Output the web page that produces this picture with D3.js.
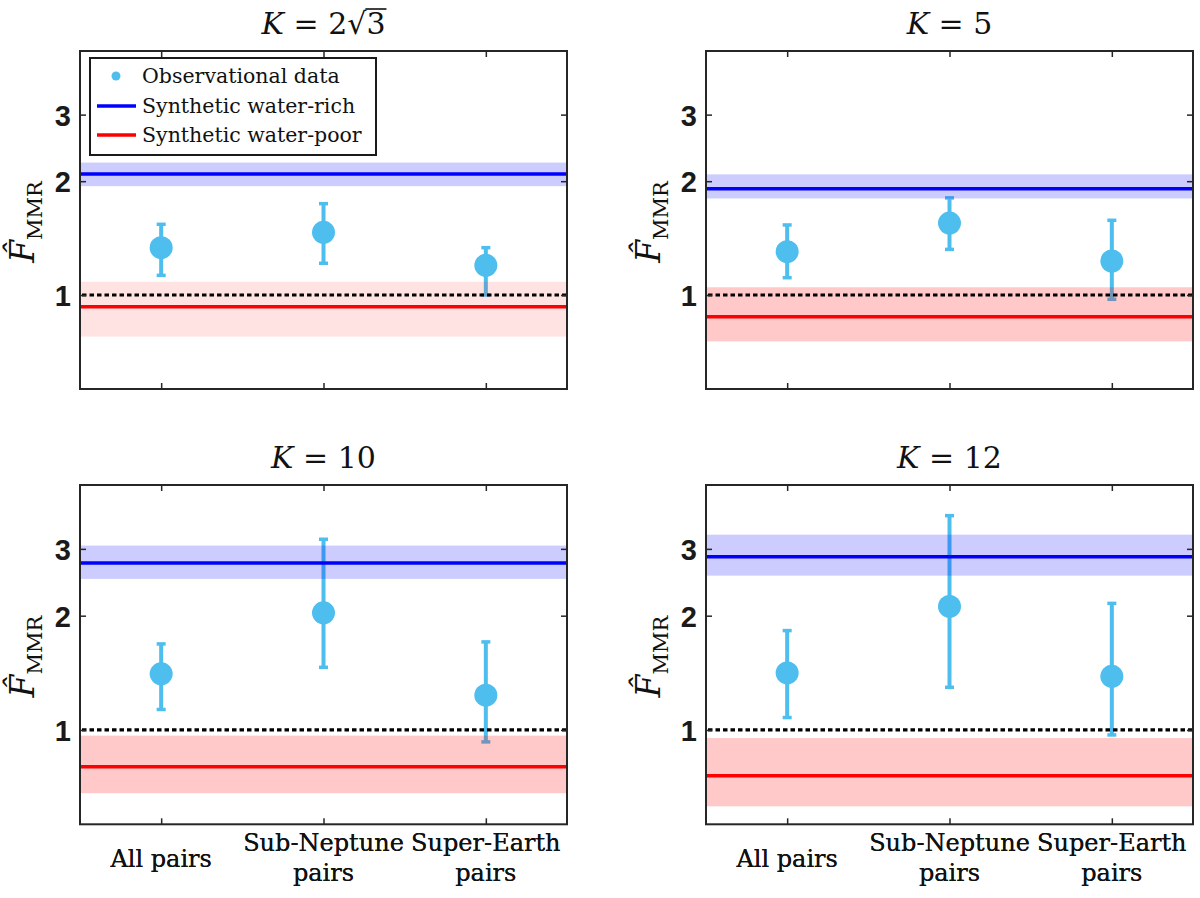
<!DOCTYPE html>
<html>
<head>
<meta charset="utf-8">
<script src="https://cdnjs.cloudflare.com/ajax/libs/d3/7.8.5/d3.min.js"></script>
<style>
    body { margin: 0; background: #fff; }
    svg { display: block; }
</style>
</head>
<body>
<svg width="1200" height="898"></svg>
<script>
// panel titles (K values)
var kLabels = ['2\u221A3', '5', '10', '12'];
// x categories, split over lines
var categories = [['All pairs'], ['Sub-Neptune', 'pairs'], ['Super-Earth', 'pairs']];
var yTicks = [1, 2, 3];

// observational estimates per panel (All, Sub-Neptune, Super-Earth)
var obsMean = [[1.334, 1.465, 1.198], [1.302, 1.55, 1.23], [1.406, 2.035, 1.235], [1.413, 2.115, 1.384]];
var obsLow = [[1.127, 1.213, 1.0], [1.111, 1.32, 0.974], [1.132, 1.462, 0.930], [1.078, 1.295, 0.970]];
var obsHigh = [[1.538, 1.744, 1.334], [1.532, 1.806, 1.576], [1.685, 3.18, 1.706], [1.827, 3.67, 2.155]];

// synthetic populations: value and band per panel
var richMid = [2.09, 1.91, 2.755, 2.86];
var richLow = [1.94, 1.80, 2.50, 2.55];
var richHigh = [2.24, 2.085, 3.06, 3.27];
var poorMid = [0.931, 0.876, 0.80, 0.757];
var poorLow = [0.776, 0.754, 0.681, 0.629];
var poorHigh = [1.084, 1.048, 0.966, 0.952];

var legendLabels = ['Observational data', 'Synthetic water-rich', 'Synthetic water-poor'];

var obsColor = '#4DBEEE';
var axisColor = '#262626';
var serif = '"DejaVu Serif", "Liberation Serif", serif';
var sans = '"Liberation Sans", Arial, sans-serif';

var svg = d3.select('svg');

var panels = [
    {left: 80, top: 51, right: 567, bottom: 389, poorAlpha: 0.11},
    {left: 706, top: 51, right: 1193, bottom: 389, poorAlpha: 0.21},
    {left: 80, top: 485, right: 567, bottom: 824.3, poorAlpha: 0.21},
    {left: 706, top: 485, right: 1193, bottom: 824.3, poorAlpha: 0.21}
];

panels.forEach(function (p, i) {
    var g = svg.append('g');

    var x = d3.scaleLinear()
        .domain([0.5, 3.5])
        .range([p.left, p.right]);

    var y = d3.scaleLog()
        .domain([0.564, 4.42])
        .range([p.bottom, p.top]);

    var x0 = p.left, x1 = p.right;

    // error bars
    var idx = [0, 1, 2];
    g.selectAll('.ebar')
        .data(idx)
        .enter()
        .append('line')
        .attr('x1', function (d) { return x(d + 1); })
        .attr('x2', function (d) { return x(d + 1); })
        .attr('y1', function (d) { return y(obsLow[i][d]); })
        .attr('y2', function (d) { return y(obsHigh[i][d]); })
        .attr('stroke', obsColor)
        .attr('stroke-width', 4);

    [obsLow, obsHigh].forEach(function (arr) {
        g.selectAll(null)
            .data(idx)
            .enter()
            .append('line')
            .attr('x1', function (d) { return x(d + 1) - 4.5; })
            .attr('x2', function (d) { return x(d + 1) + 4.5; })
            .attr('y1', function (d) { return y(arr[i][d]); })
            .attr('y2', function (d) { return y(arr[i][d]); })
            .attr('stroke', obsColor)
            .attr('stroke-width', 3.5);
    });

    g.selectAll('circle')
        .data(idx)
        .enter()
        .append('circle')
        .attr('cx', function (d) { return x(d + 1); })
        .attr('cy', function (d) { return y(obsMean[i][d]); })
        .attr('r', 11.5)
        .attr('fill', obsColor);

    // bands
    g.append('rect')
        .attr('x', x0)
        .attr('width', x1 - x0)
        .attr('y', y(richHigh[i]))
        .attr('height', y(richLow[i]) - y(richHigh[i]))
        .attr('fill', '#0000FF')
        .attr('fill-opacity', 0.2);

    g.append('rect')
        .attr('x', x0)
        .attr('width', x1 - x0)
        .attr('y', y(poorHigh[i]))
        .attr('height', y(poorLow[i]) - y(poorHigh[i]))
        .attr('fill', '#FF0000')
        .attr('fill-opacity', p.poorAlpha);

    // reference line at 1
    g.append('line')
        .attr('x1', x0 + 2).attr('x2', x1)
        .attr('y1', y(1)).attr('y2', y(1))
        .attr('stroke', '#000')
        .attr('stroke-width', 3.2)
        .attr('stroke-dasharray', '4.5,3');

    g.append('line')
        .attr('x1', x0).attr('x2', x1)
        .attr('y1', y(richMid[i])).attr('y2', y(richMid[i]))
        .attr('stroke', '#0000FF')
        .attr('stroke-width', 3.5);

    g.append('line')
        .attr('x1', x0).attr('x2', x1)
        .attr('y1', y(poorMid[i])).attr('y2', y(poorMid[i]))
        .attr('stroke', '#FF0000')
        .attr('stroke-width', 3.5);

    // axes (ticks inward, box on)
    var tickLen = 6;
    var axL = d3.axisLeft(y).tickValues(yTicks).tickSize(-tickLen).tickFormat(d3.format('d')).tickPadding(9);
    var axR = d3.axisRight(y).tickValues(yTicks).tickSize(-tickLen).tickFormat('');
    var axB = d3.axisBottom(x).tickValues([1, 2, 3]).tickSize(-tickLen).tickFormat('');
    var axT = d3.axisTop(x).tickValues([1, 2, 3]).tickSize(-tickLen).tickFormat('');

    var gl = g.append('g').attr('transform', 'translate(' + x0 + ',0)').call(axL);
    g.append('g').attr('transform', 'translate(' + x1 + ',0)').call(axR);
    g.append('g').attr('transform', 'translate(0,' + p.bottom + ')').call(axB);
    g.append('g').attr('transform', 'translate(0,' + p.top + ')').call(axT);

    g.selectAll('.domain').remove();
    g.selectAll('.tick line').attr('stroke', axisColor).attr('stroke-width', 1.5);
    gl.selectAll('.tick text')
        .attr('font-family', sans)
        .attr('font-weight', 'bold')
        .attr('font-size', 29)
        .attr('fill', '#1a1a1a')
        .attr('dy', '0.36em');

    g.append('rect')
        .attr('x', x0).attr('y', p.top)
        .attr('width', x1 - x0).attr('height', p.bottom - p.top)
        .attr('fill', 'none')
        .attr('stroke', axisColor)
        .attr('stroke-width', 2);

    // x labels
    categories.forEach(function (lines, c) {
        var t = g.append('text')
            .attr('text-anchor', 'middle')
            .attr('font-family', serif)
            .attr('font-size', 24)
            .attr('fill', '#111');
        var base = lines.length === 1 ? 867 : 851;
        lines.forEach(function (s, k) {
            t.append('tspan')
                .attr('x', x(c + 1))
                .attr('y', base + k * 30)
                .text(s);
        });
    });

    // y label
    var cy = (p.top + p.bottom) / 2;
    var yl = g.append('text')
        .attr('transform', 'translate(' + (x0 - 46) + ',' + (cy + 2) + ') rotate(-90)')
        .attr('text-anchor', 'middle')
        .attr('font-family', serif)
        .attr('fill', '#111');
    yl.append('tspan').attr('font-style', 'italic').attr('font-size', 33).text('F\u0302');
    yl.append('tspan').attr('font-size', 21).attr('dy', 8).text('MMR');

    // title
    var tcx = (x0 + x1) / 2;
    var title = g.append('text')
        .attr('x', tcx)
        .attr('y', p.top - 17)
        .attr('text-anchor', 'middle')
        .attr('font-family', serif)
        .attr('font-size', 30)
        .attr('fill', '#111');
    title.append('tspan').attr('font-style', 'italic').text('K');
    title.append('tspan').text(' = ');
    if (kLabels[i].indexOf('\u221A') >= 0) {
        var parts = kLabels[i].split('\u221A');
        title.append('tspan').text(parts[0] + '\u221A');
        var rad = title.append('tspan').text(parts[1]);
        var bb = rad.node().getBoundingClientRect();
        g.append('line')
            .attr('x1', bb.left - 1).attr('x2', bb.right + 1)
            .attr('y1', bb.top + 3).attr('y2', bb.top + 3)
            .attr('stroke', '#111')
            .attr('stroke-width', 1.6);
    } else {
        title.append('tspan').text(kLabels[i]);
    }
});

// legend in first panel
var lg = svg.append('g');
lg.append('rect')
    .attr('x', 90).attr('y', 58)
    .attr('width', 286).attr('height', 97)
    .attr('fill', '#fff')
    .attr('stroke', '#1a1a1a')
    .attr('stroke-width', 2);

var rowY = [76, 106, 135];
lg.append('circle').attr('cx', 116).attr('cy', rowY[0]).attr('r', 4.5).attr('fill', obsColor);
lg.append('line').attr('x1', 97).attr('x2', 136).attr('y1', rowY[1]).attr('y2', rowY[1])
    .attr('stroke', '#0000FF').attr('stroke-width', 3.5);
lg.append('line').attr('x1', 97).attr('x2', 136).attr('y1', rowY[2]).attr('y2', rowY[2])
    .attr('stroke', '#FF0000').attr('stroke-width', 3.5);

lg.selectAll('.lt')
    .data(legendLabels)
    .enter()
    .append('text')
    .attr('x', 142)
    .attr('y', function (d, k) { return rowY[k] + 7; })
    .attr('font-family', serif)
    .attr('font-size', 20.5)
    .attr('fill', '#111')
    .text(function (d) { return d; });
</script>
</body>
</html>
